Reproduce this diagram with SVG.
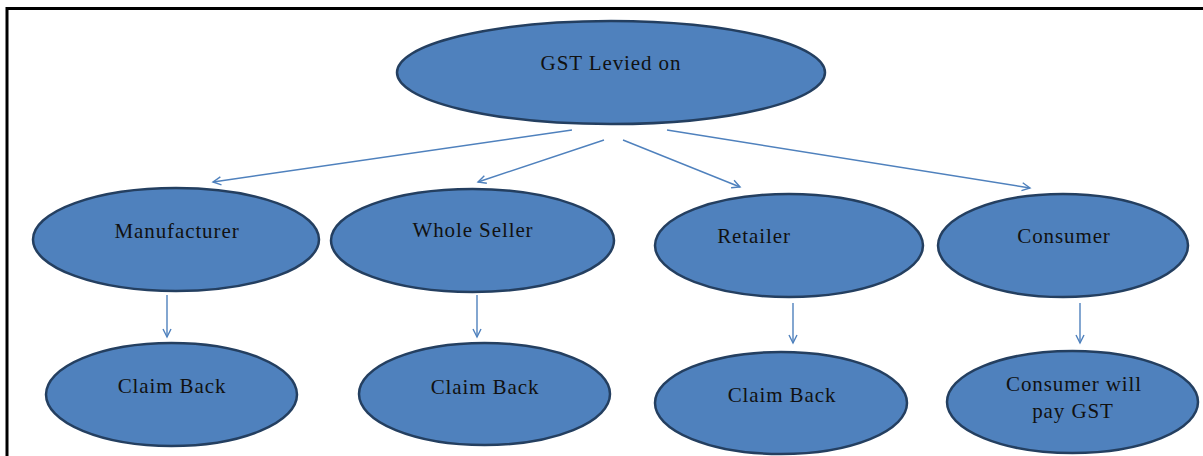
<svg xmlns="http://www.w3.org/2000/svg" width="1203" height="456" viewBox="0 0 1203 456">
  <style>
    .node ellipse { fill: #4F81BD; stroke: #243F60; stroke-width: 2.5; }
    .node text { font-family: "Liberation Serif", "Times New Roman", serif; font-size: 21px; fill: #111; text-anchor: middle; letter-spacing: 0.9px; }
    .conn line { stroke: #4F81BD; stroke-width: 1.4; marker-end: url(#arr); }
    .frame { stroke: #000; stroke-width: 3; fill: none; }
  </style>
  <defs>
    <marker id="arr" markerUnits="userSpaceOnUse" markerWidth="12" markerHeight="12" refX="9" refY="5" orient="auto">
      <path d="M1,1 L9,5 L1,9" fill="none" stroke="#4F81BD" stroke-width="1.4"/>
    </marker>
  </defs>
  <rect width="1203" height="456" fill="#fff"/>
  <path class="frame" d="M7,456 L7,8.5 L1203,8.5"/>

  <g id="connectors" class="conn">
    <line x1="572" y1="130" x2="213" y2="182"/>
    <line x1="604" y1="140" x2="478" y2="182"/>
    <line x1="623" y1="140" x2="740" y2="187"/>
    <line x1="667" y1="130" x2="1030" y2="188"/>
    <line x1="167" y1="295" x2="167" y2="337"/>
    <line x1="477" y1="295" x2="477" y2="337"/>
    <line x1="793" y1="303" x2="793" y2="343"/>
    <line x1="1080" y1="303" x2="1080" y2="343"/>
  </g>

  <g id="gst" class="node">
    <ellipse cx="611" cy="72.5" rx="214" ry="51.5"/>
    <text x="611" y="70">GST Levied on</text>
  </g>
  <g id="manufacturer" class="node">
    <ellipse cx="176" cy="239.5" rx="143" ry="51.5"/>
    <text x="177" y="238">Manufacturer</text>
  </g>
  <g id="wholeseller" class="node">
    <ellipse cx="472.5" cy="240.5" rx="141.5" ry="51.5"/>
    <text x="473" y="237">Whole Seller</text>
  </g>
  <g id="retailer" class="node">
    <ellipse cx="789" cy="245.5" rx="134" ry="51.5"/>
    <text x="754" y="243">Retailer</text>
  </g>
  <g id="consumer" class="node">
    <ellipse cx="1063" cy="245.5" rx="125" ry="51.5"/>
    <text x="1064" y="243">Consumer</text>
  </g>
  <g id="claim1" class="node">
    <ellipse cx="171.5" cy="394.5" rx="125.5" ry="51.5"/>
    <text x="172" y="393">Claim Back</text>
  </g>
  <g id="claim2" class="node">
    <ellipse cx="484.5" cy="394" rx="125.5" ry="51"/>
    <text x="485" y="394">Claim Back</text>
  </g>
  <g id="claim3" class="node">
    <ellipse cx="781" cy="403" rx="126" ry="51"/>
    <text x="782" y="402">Claim Back</text>
  </g>
  <g id="pay" class="node">
    <ellipse cx="1072.5" cy="402" rx="125.5" ry="51"/>
    <text x="1074" y="391">Consumer will</text>
    <text x="1073" y="418">pay GST</text>
  </g>
</svg>
